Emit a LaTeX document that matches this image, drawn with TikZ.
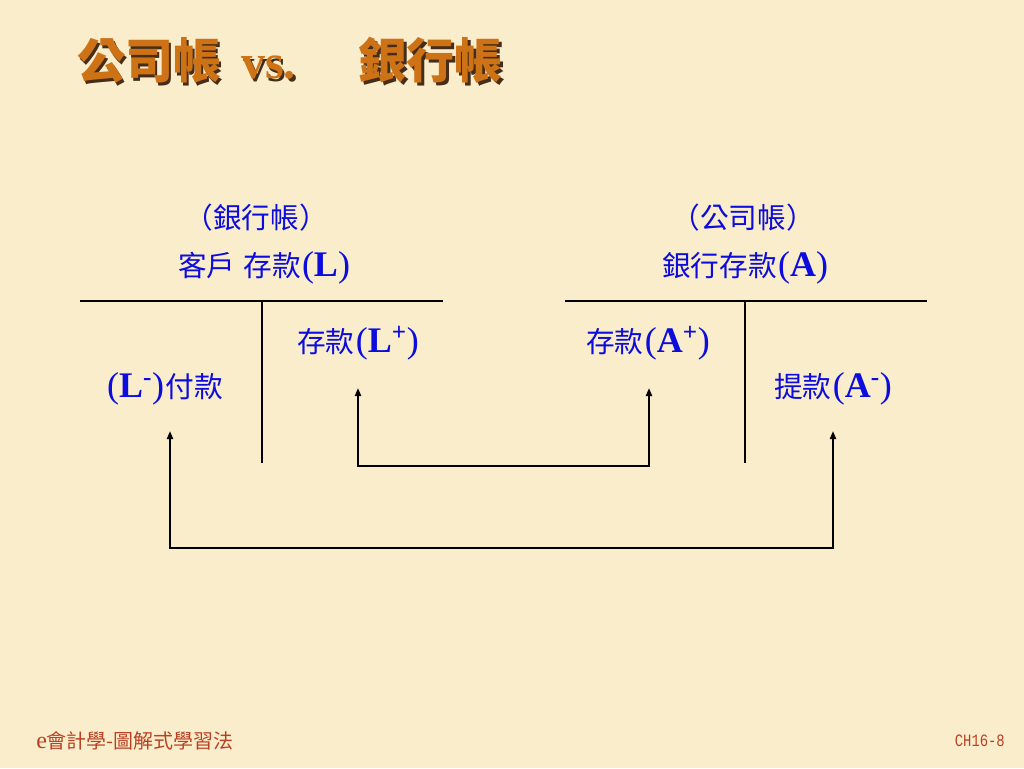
\documentclass[tikz,border=0pt]{standalone}
\usepackage{fontspec}
\setmainfont{Liberation Serif}
\setmonofont{Liberation Mono}
\newfontfamily\cjk{Noto Sans CJK TC}
\usetikzlibrary{arrows.meta}
\definecolor{paper}{RGB}{250,237,204}
\definecolor{ink}{RGB}{12,12,220}
\definecolor{titleorange}{RGB}{206,114,22}
\definecolor{titleshade}{RGB}{70,45,25}
\definecolor{footred}{RGB}{185,65,35}
\newcommand{\lat}[1]{{\fontsize{27}{29}\selectfont #1}}
\newcommand{\titletext}{{\cjk\bfseries 公司帳}\hspace{15pt}\textbf{vs.}\hspace{47pt}{\cjk\bfseries 銀行帳}}
\tikzset{linktip/.tip={Triangle[length=6pt,width=4.5pt]}}

\begin{document}
\begin{tikzpicture}[x=0.75pt,y=-0.75pt]
\tikzstyle{every node}+=[inner sep=0pt]
\tikzstyle{lbl}=[text=ink,font=\fontsize{21.5}{25}\selectfont]
\tikzstyle{tline}=[black,line width=1.5pt]
\fill [paper] (0,0) rectangle (1024,768);
\useasboundingbox (0,0) rectangle (1024,768);
% title with shadow
\node [anchor=west,font=\fontsize{36}{40}\selectfont] (title) at (77,62) {\makebox[0pt][l]{\hspace{2pt}\raisebox{-2pt}{\color{titleshade}\titletext}}\color{titleorange}\titletext};
% bank's book
\node [lbl] (bankhd) at (256,218) {{\cjk （銀行帳）}};
\node [lbl] (liab) at (264,268) {{\cjk 客戶\hspace{6pt}存款}\hspace{1pt}\lat{(\textbf{L})}};
\node [lbl] (depL) at (358,343) {{\cjk 存款}\hspace{1pt}\lat{(\textbf{L}\textsuperscript{\textbf{+}})}};
\node [lbl] (payL) at (165,389) {\lat{(\textbf{L}\textsuperscript{\textbf{-}})}\hspace{1pt}{\cjk 付款}};
\coordinate (lL) at (80,301);
\coordinate (rL) at (443,301);
\coordinate (mL) at (262,301);
\draw [tline] (lL) -- (rL);
\draw [tline] (mL) -- ++(0,162);
% company's book
\node [lbl] (comphd) at (743,218) {{\cjk （公司帳）}};
\node [lbl] (asset) at (745,268) {{\cjk 銀行存款}\hspace{1pt}\lat{(\textbf{A})}};
\node [lbl] (depA) at (648,343) {{\cjk 存款}\hspace{1pt}\lat{(\textbf{A}\textsuperscript{\textbf{+}})}};
\node [lbl] (wdA) at (833,389) {{\cjk 提款}\hspace{1pt}\lat{(\textbf{A}\textsuperscript{\textbf{-}})}};
\coordinate (lA) at (565,301);
\coordinate (rA) at (927,301);
\coordinate (mA) at (745,301);
\draw [tline] (lA) -- (rA);
\draw [tline] (mA) -- ++(0,162);
% links
\coordinate (inL) at (358,388);
\coordinate (inR) at (649,388);
\coordinate (outL) at (170,431);
\coordinate (outR) at (833,431);
\draw [tline,linktip-linktip] (inL) -- ++(0,78) -| (inR);
\draw [tline,linktip-linktip] (outL) -- ++(0,117) -| (outR);
% footer
\node [anchor=west,text=footred,font=\fontsize{15}{17}\selectfont] (foot) at (36,741) {{\fontsize{18}{18}\selectfont e}{\cjk 會計學-圖解式學習法}};
\node [anchor=east,text=footred,font=\ttfamily\fontsize{13}{15}\selectfont,xscale=0.8] (page) at (1005,741) {CH16-8};
\end{tikzpicture}
\end{document}
